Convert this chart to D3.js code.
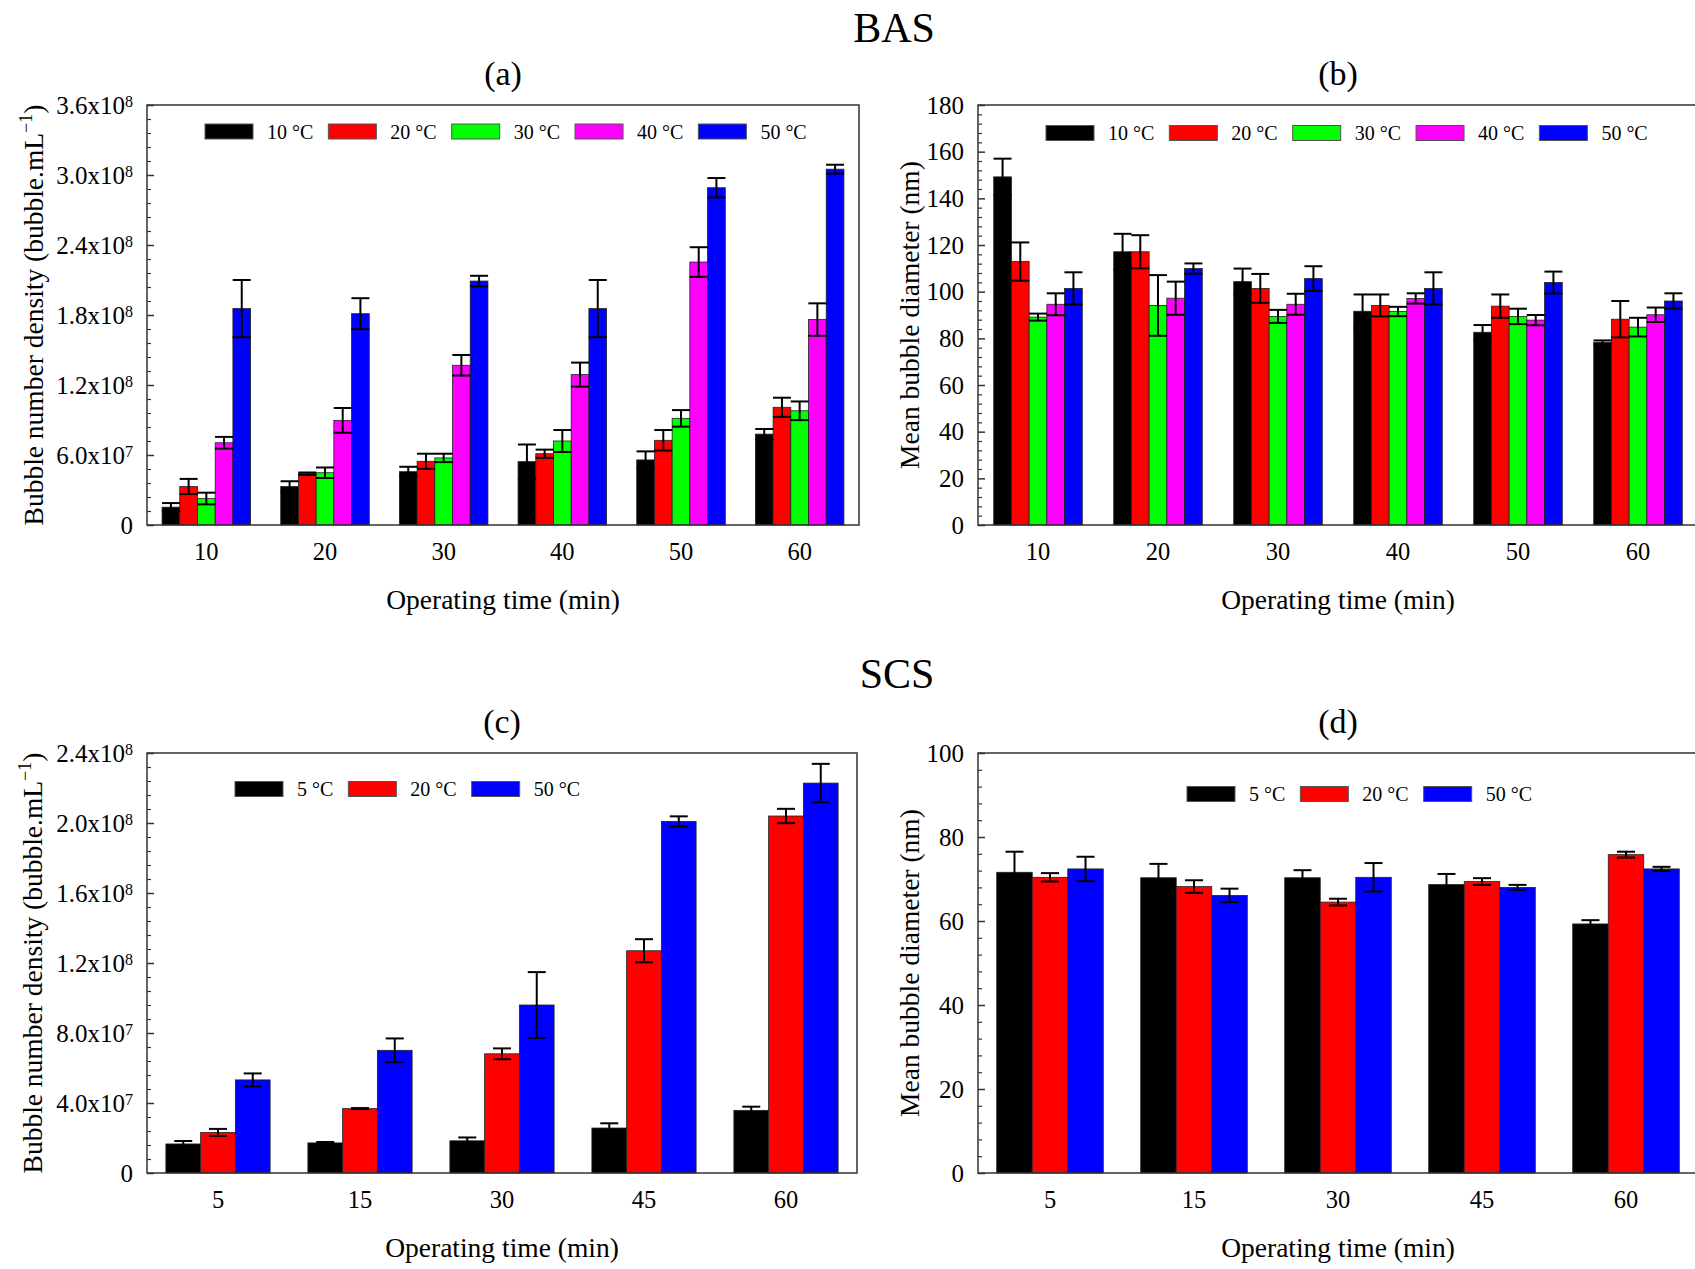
<!DOCTYPE html>
<html lang="en">
<head>
<meta charset="UTF-8">
<title>BAS / SCS bubble density and diameter</title>
<script src="https://d3js.org/d3.v7.min.js"></script>
<style>
  body { margin: 0; background: #fff; }
  svg { display: block; }
</style>
</head>
<body>
<svg width="1695" height="1269"></svg>
<script>
// ---- BAS (a, b) ----
const basTimes = [10, 20, 30, 40, 50, 60];
const basTemps = ["10 °C", "20 °C", "30 °C", "40 °C", "50 °C"];
const basColors = ["#000000", "#ff0000", "#00ff00", "#ff00ff", "#0000ff"];

// (a) bubble number density (bubble/mL), one array per temperature
const basDens10 = [1.53e7, 3.30e7, 4.57e7, 5.43e7, 5.58e7, 7.79e7];
const basDens20 = [3.30e7, 4.40e7, 5.46e7, 6.11e7, 7.26e7, 10.09e7];
const basDens30 = [2.27e7, 4.48e7, 5.75e7, 7.20e7, 9.14e7, 9.79e7];
const basDens40 = [7.05e7, 8.97e7, 13.69e7, 12.89e7, 22.54e7, 17.61e7];
const basDens50 = [18.55e7, 18.11e7, 20.91e7, 18.55e7, 28.91e7, 30.50e7];
const basDensErr10 = [0.35e7, 0.45e7, 0.42e7, 1.47e7, 0.73e7, 0.44e7];
const basDensErr20 = [0.65e7, 0.10e7, 0.65e7, 0.35e7, 0.88e7, 0.82e7];
const basDensErr30 = [0.50e7, 0.45e7, 0.36e7, 0.94e7, 0.71e7, 0.80e7];
const basDensErr40 = [0.50e7, 1.06e7, 0.88e7, 1.03e7, 1.27e7, 1.39e7];
const basDensErr50 = [2.45e7, 1.33e7, 0.45e7, 2.45e7, 0.83e7, 0.38e7];
const basDensTicks = [0, 6e7, 1.2e8, 1.8e8, 2.4e8, 3.0e8, 3.6e8];

// (b) mean bubble diameter (nm)
const basDiam10 = [149.2, 117.1, 104.3, 91.6, 82.6, 78.3];
const basDiam20 = [112.9, 117.1, 101.4, 94.1, 93.8, 88.2];
const basDiam30 = [89.1, 94.1, 89.4, 91.5, 89.4, 84.8];
const basDiam40 = [94.6, 97.2, 94.6, 97.1, 87.8, 90.1];
const basDiam50 = [101.4, 109.9, 105.6, 101.4, 103.9, 96.0];
const basDiamErr10 = [7.8, 7.7, 5.6, 7.2, 3.1, 0.8];
const basDiamErr20 = [8.2, 7.1, 6.2, 4.7, 5.0, 7.8];
const basDiamErr30 = [1.5, 13.0, 2.8, 2.0, 3.3, 4.0];
const basDiamErr40 = [4.7, 7.1, 4.5, 2.2, 2.2, 3.1];
const basDiamErr50 = [6.9, 2.2, 5.3, 6.9, 4.7, 3.3];
const basDiamTicks = [0, 20, 40, 60, 80, 100, 120, 140, 160, 180];

// ---- SCS (c, d) ----
const scsTimes = [5, 15, 30, 45, 60];
const scsTemps = ["5 °C", "20 °C", "50 °C"];
const scsColors = ["#000000", "#ff0000", "#0000ff"];

const scsDens5 = [1.66e7, 1.72e7, 1.84e7, 2.57e7, 3.58e7];
const scsDens20 = [2.32e7, 3.68e7, 6.81e7, 12.70e7, 20.40e7];
const scsDens50 = [5.32e7, 7.01e7, 9.60e7, 20.09e7, 22.28e7];
const scsDensErr5 = [0.17e7, 0.05e7, 0.19e7, 0.27e7, 0.21e7];
const scsDensErr20 = [0.20e7, 0.03e7, 0.31e7, 0.66e7, 0.41e7];
const scsDensErr50 = [0.37e7, 0.68e7, 1.88e7, 0.29e7, 1.10e7];
const scsDensTicks = [0, 4e7, 8e7, 1.2e8, 1.6e8, 2.0e8, 2.4e8];

const scsDiam5 = [71.6, 70.3, 70.3, 68.7, 59.3];
const scsDiam20 = [70.4, 68.2, 64.5, 69.4, 75.8];
const scsDiam50 = [72.4, 66.1, 70.4, 68.0, 72.4];
const scsDiamErr5 = [4.9, 3.3, 1.8, 2.5, 0.9];
const scsDiamErr20 = [1.0, 1.5, 0.8, 0.8, 0.7];
const scsDiamErr50 = [2.9, 1.6, 3.4, 0.6, 0.5];
const scsDiamTicks = [0, 20, 40, 60, 80, 100];

const FONT = '"Liberation Serif", "Times New Roman", serif';
const AXIS = "#333";
const svg = d3.select("svg").attr("font-family", FONT);

// tick text like 3.0x10^8
function sciLabel(sel, v) {
  sel.text(null);
  if (v === 0) { sel.text("0"); return; }
  const e = Math.floor(Math.log10(v) + 1e-9);
  const m = v / Math.pow(10, e);
  sel.append("tspan").text(m.toFixed(1) + "x10");
  sel.append("tspan").attr("font-size", 16).attr("dy", -7).text(e);
}
function plainLabel(sel, v) { sel.text(v); }

function panel(p) {
  const g = svg.append("g");
  const x = d3.scaleBand().domain(p.cats)
    .range([p.left, p.right]).paddingInner(p.pad).paddingOuter(p.pad / 2);
  const xs = d3.scaleBand().domain(d3.range(p.series.length)).range([0, x.bandwidth()]);
  const y = d3.scaleLinear().domain([0, p.ticks[p.ticks.length - 1]]).range([p.bottom, p.top]);

  // bars
  p.series.forEach((vals, s) => {
    g.append("g").selectAll("rect").data(vals).join("rect")
      .attr("x", (d, i) => x(p.cats[i]) + xs(s))
      .attr("y", d => y(d))
      .attr("width", xs.bandwidth())
      .attr("height", d => y(0) - y(d))
      .attr("fill", p.colors[s])
      .attr("stroke", "#222").attr("stroke-width", 0.8);
  });

  // error bars (drawn over all bars)
  p.series.forEach((vals, s) => {
    const eg = g.append("g").attr("stroke", "#000").attr("stroke-width", 2);
    vals.forEach((v, i) => {
      const cx = x(p.cats[i]) + xs(s) + xs.bandwidth() / 2;
      const lo = y(v - p.errs[s][i]), hi = y(v + p.errs[s][i]);
      eg.append("line").attr("x1", cx).attr("x2", cx).attr("y1", lo).attr("y2", hi);
      eg.append("line").attr("x1", cx - 9).attr("x2", cx + 9).attr("y1", hi).attr("y2", hi);
      eg.append("line").attr("x1", cx - 9).attr("x2", cx + 9).attr("y1", lo).attr("y2", lo);
    });
  });

  // frame
  g.append("rect")
    .attr("x", p.left).attr("y", p.top)
    .attr("width", p.right - p.left).attr("height", p.bottom - p.top)
    .attr("fill", "none").attr("stroke", AXIS).attr("stroke-width", 1.5);

  // y axis, ticks pointing inward
  const ya = g.append("g").attr("transform", `translate(${p.left},0)`)
    .call(d3.axisLeft(y).tickValues(p.ticks).tickSizeInner(-7).tickSizeOuter(0).tickPadding(14));
  ya.attr("font-size", 25).attr("font-family", FONT);
  ya.select(".domain").remove();
  ya.selectAll(".tick line").attr("stroke", AXIS).attr("stroke-width", 1.5);
  ya.selectAll(".tick text").attr("fill", "#000").each(function (d) { p.fmt(d3.select(this), d); });

  const minor = [];
  for (let i = 0; i < p.ticks.length - 1; i++) {
    for (let k = 1; k < 5; k++) minor.push(p.ticks[i] + (p.ticks[i + 1] - p.ticks[i]) * k / 5);
  }
  const ym = g.append("g").attr("transform", `translate(${p.left},0)`)
    .call(d3.axisLeft(y).tickValues(minor).tickSizeInner(-4).tickSizeOuter(0).tickFormat(""));
  ym.select(".domain").remove();
  ym.selectAll(".tick line").attr("stroke", AXIS).attr("stroke-width", 1.2);

  // x axis labels only
  const xa = g.append("g").attr("transform", `translate(0,${p.bottom})`)
    .call(d3.axisBottom(x).tickSize(0).tickPadding(18));
  xa.attr("font-size", 24.5).attr("font-family", FONT);
  xa.select(".domain").remove();
  xa.selectAll(".tick text").attr("fill", "#000");

  // axis titles
  const cx = (p.left + p.right) / 2;
  g.append("text").attr("x", cx).attr("y", p.bottom + 84)
    .attr("text-anchor", "middle").attr("font-size", 27.5).text("Operating time (min)");
  const yt = g.append("text")
    .attr("transform", `translate(${p.yTitleX},${(p.top + p.bottom) / 2}) rotate(-90)`)
    .attr("text-anchor", "middle").attr("font-size", 27.5);
  yt.append("tspan").text(p.yTitle);
  if (p.yTitleSup) {
    yt.append("tspan").attr("font-size", 18).attr("dy", -11).text(p.yTitleSup);
    yt.append("tspan").attr("dy", 11).text(p.yTitleEnd);
  }

  // subtitle
  g.append("text").attr("x", cx).attr("y", p.top - 20)
    .attr("text-anchor", "middle").attr("font-size", 34).text(p.sub);

  // legend
  let lx = p.legendX;
  p.names.forEach((name, s) => {
    g.append("rect").attr("x", lx).attr("y", p.legendY - 7.5)
      .attr("width", 48).attr("height", 15)
      .attr("fill", p.colors[s]).attr("stroke", "#555").attr("stroke-width", 1);
    const t = g.append("text").attr("x", lx + 62).attr("y", p.legendY + 7)
      .attr("font-size", 20).text(name);
    lx += 62 + t.node().getComputedTextLength() + 15;
  });
}

// main titles
svg.append("text").attr("x", 894).attr("y", 42).attr("text-anchor", "middle")
  .attr("font-size", 42).text("BAS");
svg.append("text").attr("x", 897).attr("y", 688).attr("text-anchor", "middle")
  .attr("font-size", 42).text("SCS");

panel({
  left: 147, right: 859, top: 105, bottom: 525, pad: 0.254,
  cats: basTimes, names: basTemps, colors: basColors,
  series: [basDens10, basDens20, basDens30, basDens40, basDens50],
  errs: [basDensErr10, basDensErr20, basDensErr30, basDensErr40, basDensErr50],
  ticks: basDensTicks, fmt: sciLabel,
  yTitle: "Bubble number density (bubble.mL", yTitleSup: "\u22121", yTitleEnd: ")",
  yTitleX: 43, sub: "(a)", legendX: 205, legendY: 131.5
});
panel({
  left: 978, right: 1698, top: 105, bottom: 525, pad: 0.262,
  cats: basTimes, names: basTemps, colors: basColors,
  series: [basDiam10, basDiam20, basDiam30, basDiam40, basDiam50],
  errs: [basDiamErr10, basDiamErr20, basDiamErr30, basDiamErr40, basDiamErr50],
  ticks: basDiamTicks, fmt: plainLabel,
  yTitle: "Mean bubble diameter (nm)",
  yTitleX: 919, sub: "(b)", legendX: 1046, legendY: 133
});
panel({
  left: 147, right: 857, top: 753, bottom: 1173, pad: 0.266,
  cats: scsTimes, names: scsTemps, colors: scsColors,
  series: [scsDens5, scsDens20, scsDens50],
  errs: [scsDensErr5, scsDensErr20, scsDensErr50],
  ticks: scsDensTicks, fmt: sciLabel,
  yTitle: "Bubble number density (bubble.mL", yTitleSup: "\u22121", yTitleEnd: ")",
  yTitleX: 42, sub: "(c)", legendX: 235, legendY: 789
});
panel({
  left: 978, right: 1698, top: 753, bottom: 1173, pad: 0.26,
  cats: scsTimes, names: scsTemps, colors: scsColors,
  series: [scsDiam5, scsDiam20, scsDiam50],
  errs: [scsDiamErr5, scsDiamErr20, scsDiamErr50],
  ticks: scsDiamTicks, fmt: plainLabel,
  yTitle: "Mean bubble diameter (nm)",
  yTitleX: 919, sub: "(d)", legendX: 1187, legendY: 794
});
</script>
</body>
</html>
